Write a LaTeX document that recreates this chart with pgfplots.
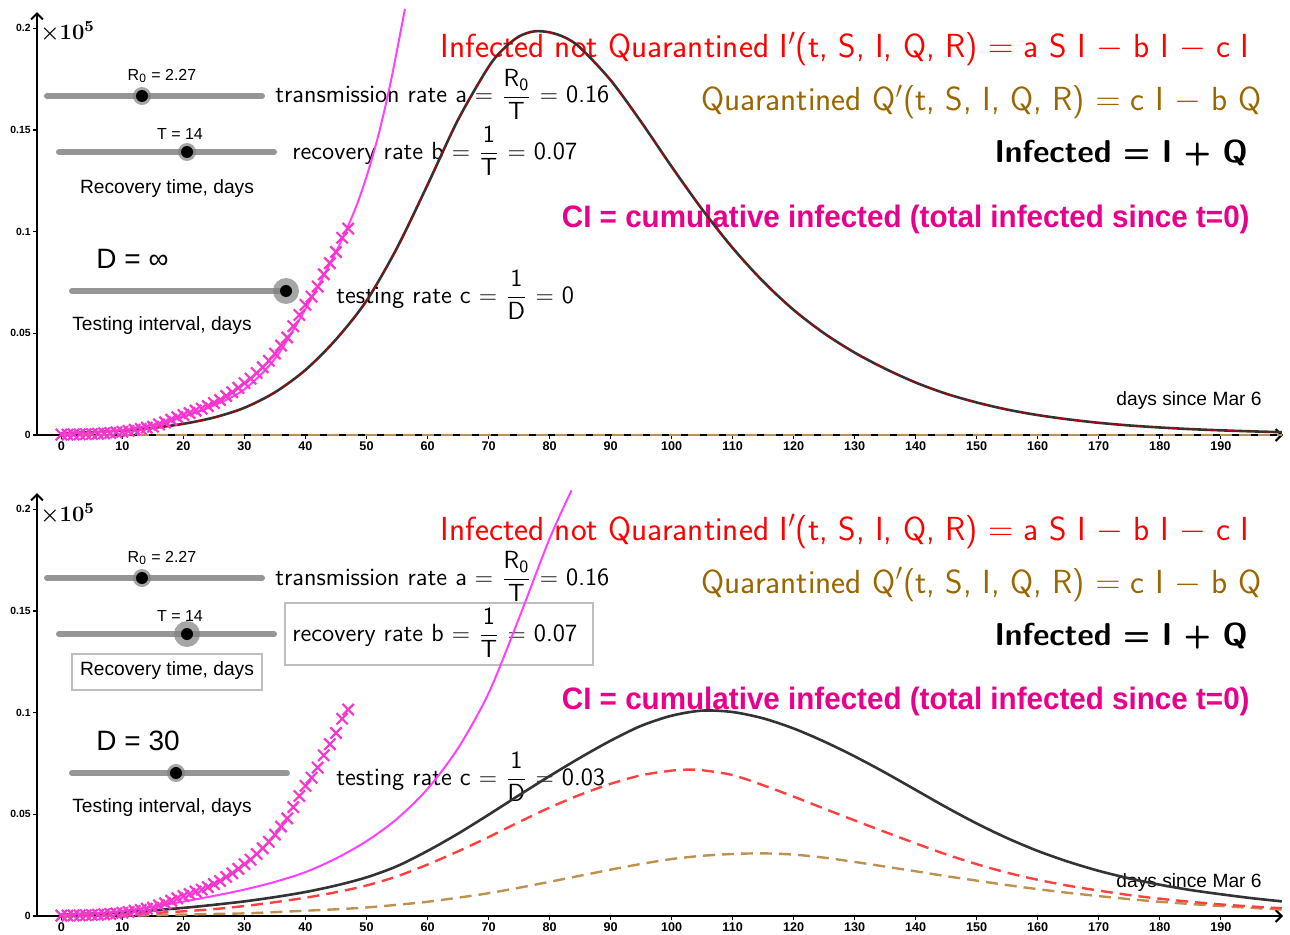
\documentclass[border=0pt]{standalone}
\usepackage{amsmath}
\usepackage{graphicx}
\usepackage{pgfplots}
\pgfplotsset{compat=1.18}
\usepackage{pgfplotstable}
\usepackage{fontspec}
\newfontfamily\arial{Liberation Sans}
\usetikzlibrary{arrows.meta}

\definecolor{eqred}{RGB}{255,0,0}
\definecolor{eqbrown}{RGB}{153,102,0}
\definecolor{cipink}{RGB}{230,0,140}
\definecolor{curvered}{RGB}{255,64,64}
\definecolor{curvebrown}{RGB}{190,145,80}
\definecolor{cimag}{RGB}{255,64,255}
\definecolor{crossmag}{RGB}{245,55,205}
\definecolor{curveblack}{RGB}{51,51,51}
\definecolor{slidergray}{RGB}{150,150,150}
\definecolor{boxgray}{RGB}{190,190,190}

\pgfplotstableread{
x y
0 0.0009
5 0.0014
10 0.0022
15 0.0035
20 0.0055
25 0.0086
30 0.0134
35 0.0210
40 0.0320
45 0.0470
50 0.0660
55 0.0920
60 0.1230
65 0.1550
70 0.1810
72.5 0.1900
75 0.1960
77.5 0.1985
80 0.1980
82.5 0.1955
85 0.1905
90 0.1745
95 0.1540
100 0.1320
105 0.1110
110 0.0920
115 0.0755
120 0.0615
125 0.0500
130 0.0405
135 0.0326
140 0.0258
145 0.0203
150 0.0160
155 0.0125
160 0.0098
165 0.0077
170 0.0060
175 0.0047
180 0.0037
185 0.0029
190 0.0023
195 0.0018
200 0.0014
}\topI

\pgfplotstableread{
x y
0 0.0005
5 0.0012
10 0.0025
15 0.0050
20 0.0090
25 0.0145
30 0.0225
35 0.0375
40 0.0620
45 0.0900
48 0.1100
50 0.1270
52 0.1480
54 0.1740
56.3 0.2095
}\topCI

\pgfplotstableread{
x y
0 0.0008
5 0.0012
10 0.0018
15 0.0028
20 0.0040
25 0.0055
30 0.0072
35 0.0093
40 0.0118
45 0.0150
50 0.0190
55 0.0245
60 0.0320
65 0.0405
70 0.0498
75 0.0594
80 0.0688
85 0.0778
90 0.0862
95 0.0935
100 0.0985
105 0.1010
110 0.1003
115 0.0972
120 0.0922
125 0.0858
130 0.0785
135 0.0705
140 0.0620
145 0.0535
150 0.0455
155 0.0383
160 0.0320
165 0.0267
170 0.0222
175 0.0185
180 0.0154
185 0.0128
190 0.0107
195 0.0088
200 0.0072
}\botTotal

\pgfplotstableread{
x y
0 0.0005
5 0.0007
10 0.0010
15 0.0015
20 0.0023
25 0.0034
30 0.0049
35 0.0068
40 0.0090
45 0.0117
50 0.0150
55 0.0195
60 0.0253
65 0.0318
70 0.0388
75 0.0462
80 0.0533
85 0.0596
90 0.0650
95 0.0692
100 0.0715
103 0.0720
105 0.0717
110 0.0693
115 0.0643
120 0.0587
125 0.0528
130 0.0470
135 0.0413
140 0.0357
145 0.0303
150 0.0255
155 0.0213
160 0.0178
165 0.0149
170 0.0125
175 0.0103
180 0.0085
185 0.0070
190 0.0057
195 0.0047
200 0.0038
}\botI

\pgfplotstableread{
x y
0 0.0000
5 0.0001
10 0.0002
15 0.0004
20 0.0007
25 0.0010
30 0.0013
35 0.0019
40 0.0026
45 0.0033
50 0.0042
55 0.0055
60 0.0070
65 0.0090
70 0.0112
75 0.0139
80 0.0168
85 0.0198
90 0.0228
95 0.0256
100 0.0280
105 0.0296
110 0.0305
115 0.0308
120 0.0302
125 0.0287
130 0.0266
135 0.0243
140 0.0220
145 0.0196
150 0.0174
155 0.0152
160 0.0132
165 0.0114
170 0.0098
175 0.0083
180 0.0070
185 0.0059
190 0.0049
195 0.0040
200 0.0032
}\botQ

\pgfplotstableread{
x y
0 0.0005
5 0.0012
10 0.0025
15 0.0046
20 0.0071
25 0.0099
30 0.0130
35 0.0168
40 0.0216
45 0.0283
50 0.0368
55 0.0478
60 0.0625
65 0.0825
70 0.1095
75 0.1465
80 0.1855
83.6 0.2093
}\botCI

\pgfplotstableread{
x y
0 0.0002
1 0.0002
2 0.0003
3 0.0003
4 0.0004
5 0.0005
6 0.0006
7 0.0008
8 0.0010
9 0.0013
10 0.0016
11 0.0020
12 0.0025
13 0.0030
14 0.0036
15 0.0041
16 0.0052
17 0.0062
18 0.0075
19 0.0087
20 0.0098
21 0.0108
22 0.0120
23 0.0130
24 0.0142
25 0.0157
26 0.0172
27 0.0192
28 0.0210
29 0.0232
30 0.0255
31 0.0277
32 0.0305
33 0.0333
34 0.0365
35 0.0400
36 0.0440
37 0.0480
38 0.0535
39 0.0590
40 0.0640
41 0.0680
42 0.0730
43 0.0790
44 0.0845
45 0.0900
46 0.0970
47 0.1015
}\casedata

\pgfplotsset{panel/.style={
  scale only axis, width=623pt, height=211.5pt,
  xmin=-4, xmax=200.2, ymin=0, ymax=0.208,
  axis x line=bottom, axis y line=left,
  axis line style={line width=1pt, -{Straight Barb[length=3pt,width=6pt]}},
  xtick={0,10,...,190},
  xticklabels={0,10,20,30,40,50,60,70,80,90,100,110,120,130,140,150,160,170,180,190},
  ytick={0,0.05,0.1,0.15,0.2},
  yticklabels={0,0.05,0.1,0.15,0.2},
  scaled y ticks=false,
  tick align=outside, major tick length=2pt,
  tick style={line width=0.6pt, black},
  xticklabel style={font=\arial\bfseries\fontsize{6.3}{7}\selectfont, inner sep=1pt},
  yticklabel style={font=\arial\bfseries\fontsize{5.2}{6}\selectfont, inner sep=1pt},
  clip=false,
}}

\tikzset{
  eqfont/.style={font=\sffamily\fontsize{16.7}{18}\selectfont},
  eqbold/.style={font=\sffamily\bfseries\fontsize{15.8}{18}\selectfont},
  midfont/.style={font=\sffamily\fontsize{12.4}{13}\selectfont},
  smallarial/.style={font=\arial\fontsize{8}{8}\selectfont},
  labarial/.style={font=\arial\fontsize{9.6}{10}\selectfont},
  tenfive/.style={font=\rmfamily\bfseries\fontsize{11}{12}\selectfont},
  cifont/.style={font=\arial\bfseries\fontsize{15.5}{16}\selectfont},
}

\begin{document}
\begin{tikzpicture}
% ---------- top panel decorations ----------
\begin{scope}[x=0.5pt, y=-0.5pt, yshift=467pt]
  \node[anchor=base east, inner sep=0, text=eqred, eqfont] at (1250,58) {Infected not Quarantined I$'$(t, S, I, Q, R) $=$ a S I $-$ b I $-$ c I};
  \node[anchor=base east, inner sep=0, text=eqbrown, eqfont] at (1262,111) {Quarantined Q$'$(t, S, I, Q, R) $=$ c I $-$ b Q};
  \node[anchor=base east, inner sep=0, eqbold] at (1248,163) {Infected = I + Q};
  \node[anchor=base east, inner sep=0, text=cipink, cifont] at (1250,227) {\scalebox{0.955}[1]{CI = cumulative infected (total infected since t=0)}};
  \node[anchor=base west, inner sep=0, midfont] at (275,103) {transmission rate a $=$ $\dfrac{\text{R}_{\text{0}}}{\text{T}}$ $=$ 0.16};
  \node[anchor=base west, inner sep=0, midfont] at (292,159) {recovery rate b $=$ $\dfrac{\text{1}}{\text{T}}$ $=$ 0.07};
  \node[anchor=base west, inner sep=0, midfont] at (336,303) {testing rate c $=$ $\dfrac{\text{1}}{\text{D}}$ $=$ 0};
  \draw[slidergray, line width=3pt, line cap=round] (47,96) -- (262,96);
  \fill[gray, opacity=0.7] (142,96) circle [radius=4.5pt];
  \fill[black] (142,96) circle [radius=3pt];
  \node[smallarial, inner sep=0] at (162,76) {R\textsubscript{0} = 2.27};
  \draw[slidergray, line width=3pt, line cap=round] (59,152) -- (274,152);
  \fill[gray, opacity=0.7] (187,152) circle [radius=4.5pt];
  \fill[black] (187,152) circle [radius=3pt];
  \node[smallarial, inner sep=0] at (180,134) {T = 14};
  \node[labarial, inner sep=0] at (167,189) {Recovery time, days};
  \node[anchor=west, font=\arial\fontsize{14}{14}\selectfont, inner sep=0] at (96,259) {D = ∞};
  \draw[slidergray, line width=3pt, line cap=round] (72,291) -- (287,291);
  \fill[gray, opacity=0.7] (286,291) circle [radius=6.5pt];
  \fill[black] (286,291) circle [radius=3pt];
  \node[labarial, inner sep=0] at (162,326) {Testing interval, days};
  \node[anchor=east, labarial, inner sep=0] at (1262,401) {days since Mar 6};
  \node[anchor=west, inner sep=0, tenfive] at (40,31) {×10\textsuperscript{5}};
\end{scope}
% ---------- bottom panel decorations ----------
\begin{scope}[x=0.5pt, y=-0.5pt, yshift=226pt]
  \node[anchor=base east, inner sep=0, text=eqred, eqfont] at (1250,58) {Infected not Quarantined I$'$(t, S, I, Q, R) $=$ a S I $-$ b I $-$ c I};
  \node[anchor=base east, inner sep=0, text=eqbrown, eqfont] at (1262,111) {Quarantined Q$'$(t, S, I, Q, R) $=$ c I $-$ b Q};
  \node[anchor=base east, inner sep=0, eqbold] at (1248,163) {Infected = I + Q};
  \node[anchor=base east, inner sep=0, text=cipink, cifont] at (1250,227) {\scalebox{0.955}[1]{CI = cumulative infected (total infected since t=0)}};
  \node[anchor=base west, inner sep=0, midfont] at (275,103) {transmission rate a $=$ $\dfrac{\text{R}_{\text{0}}}{\text{T}}$ $=$ 0.16};
  \node[anchor=base west, inner sep=0, midfont] at (292,159) {recovery rate b $=$ $\dfrac{\text{1}}{\text{T}}$ $=$ 0.07};
  \node[anchor=base west, inner sep=0, midfont] at (336,303) {testing rate c $=$ $\dfrac{\text{1}}{\text{D}}$ $=$ 0.03};
  \draw[boxgray, line width=1pt] (285,121) rectangle (593,183);
  \draw[boxgray, line width=1pt] (72,172) rectangle (262,208);
  \draw[slidergray, line width=3pt, line cap=round] (47,96) -- (262,96);
  \fill[gray, opacity=0.7] (142,96) circle [radius=4.5pt];
  \fill[black] (142,96) circle [radius=3pt];
  \node[smallarial, inner sep=0] at (162,76) {R\textsubscript{0} = 2.27};
  \draw[slidergray, line width=3pt, line cap=round] (59,152) -- (274,152);
  \fill[gray, opacity=0.7] (187,152) circle [radius=6.5pt];
  \fill[black] (187,152) circle [radius=3pt];
  \node[smallarial, inner sep=0] at (180,134) {T = 14};
  \node[labarial, inner sep=0] at (167,189) {Recovery time, days};
  \node[anchor=west, font=\arial\fontsize{14}{14}\selectfont, inner sep=0] at (96,259) {D = 30};
  \draw[slidergray, line width=3pt, line cap=round] (72,291) -- (287,291);
  \fill[gray, opacity=0.7] (176,291) circle [radius=4.5pt];
  \fill[black] (176,291) circle [radius=3pt];
  \node[labarial, inner sep=0] at (162,326) {Testing interval, days};
  \node[anchor=east, labarial, inner sep=0] at (1262,401) {days since Mar 6};
  \node[anchor=west, inner sep=0, tenfive] at (40,31) {×10\textsuperscript{5}};
\end{scope}

% ---------- top panel ----------
\begin{axis}[panel, at={(18.5pt,249.5pt)}, anchor=south west]
  \addplot[curvebrown, line width=1pt, dash pattern=on 6pt off 3.5pt] coordinates {(0,0) (200,0)};
  \addplot[curveblack, line width=1.3pt, smooth, tension=0.5] table {\topI};
  \addplot[red!70!black, line width=0.5pt, dash pattern=on 6pt off 3.5pt, smooth, tension=0.5] table {\topI};
  \addplot[cimag, line width=1pt, smooth, tension=0.5] table {\topCI};
  \addplot[crossmag, only marks, mark=x, mark size=4pt, mark options={line width=1.1pt}] table {\casedata};
\end{axis}

% ---------- bottom panel ----------
\begin{axis}[panel, at={(18.5pt,9pt)}, anchor=south west]
  \addplot[curvebrown, line width=1.2pt, dash pattern=on 6pt off 3.5pt, smooth, tension=0.5] table {\botQ};
  \addplot[curvered, line width=1.2pt, dash pattern=on 6pt off 3.5pt, smooth, tension=0.5] table {\botI};
  \addplot[curveblack, line width=1.3pt, smooth, tension=0.5] table {\botTotal};
  \addplot[cimag, line width=1pt, smooth, tension=0.5] table {\botCI};
  \addplot[crossmag, only marks, mark=x, mark size=4pt, mark options={line width=1.1pt}] table {\casedata};
\end{axis}

\pgfresetboundingbox
\useasboundingbox (0,0) rectangle (645pt,467pt);
\end{tikzpicture}
\end{document}
